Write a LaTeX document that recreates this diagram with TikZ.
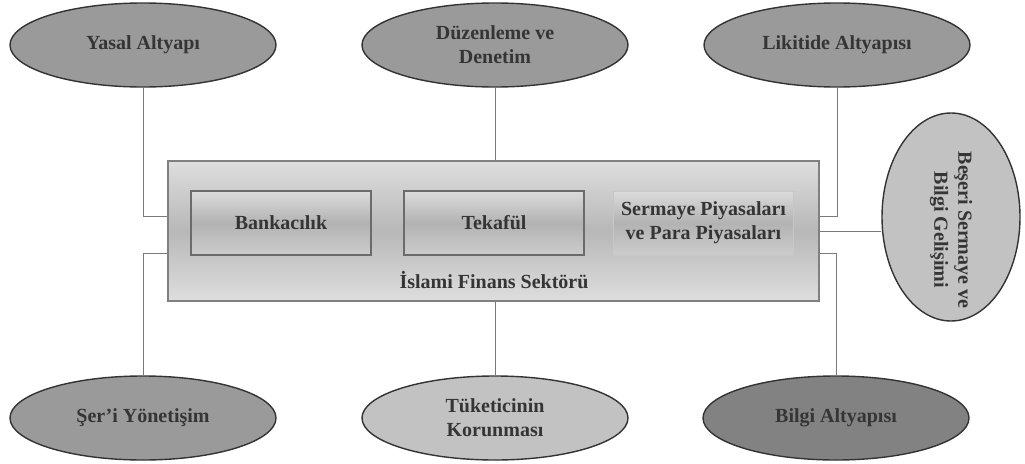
\documentclass[tikz,border=0pt]{standalone}
\usepackage{fontspec}
\setmainfont{Liberation Serif}
\usetikzlibrary{shapes.geometric,calc}
\definecolor{txt}{HTML}{353535}
\definecolor{edge}{HTML}{333333}
\definecolor{midgray}{HTML}{9A9A9A}
\definecolor{lightgray}{HTML}{C2C2C2}
\definecolor{darkgray}{HTML}{828282}
\definecolor{conncol}{HTML}{7A7A7A}
\tikzset{
  lbl/.style={font=\bfseries\fontsize{20}{24}\selectfont, text=txt, align=center},
  oval/.style={ellipse, draw=edge, line width=1.4pt, minimum width=266pt, minimum height=84pt, inner sep=0pt, lbl},
  sector/.style={draw=black!50, line width=1.2pt, top color=black!13, bottom color=black!13, middle color=black!28, minimum width=651pt, minimum height=140pt, inner sep=0pt},
  inbox/.style={draw=black!58, line width=1.3pt, top color=black!14, bottom color=black!20, middle color=black!30, minimum width=180pt, minimum height=64pt, inner sep=0pt, lbl},
  conn/.style={draw=conncol, line width=1pt}
}
\begin{document}
\begin{tikzpicture}[x=1pt,y=-1pt]
\useasboundingbox (0,0) rectangle (1025,463);
% main sector box
\node[sector] (main) at (493.5,231) {};
\node[inbox] (bank) at (281,223) {Bankacılık};
\node[inbox] (tek) at (494,223) {Tekafül};
\node[inbox, draw=black!22, line width=0.8pt] (serm) at (703.5,223) {Sermaye Piyasaları\\ve Para Piyasaları};
\node[lbl] (isl) at (494,280) {İslami Finans Sektörü};
% outer ovals
\node[oval, fill=midgray] (yasal) at (143,45) {Yasal Altyapı};
\node[oval, fill=midgray] (duz) at (495,45) {Düzenleme ve\\Denetim};
\node[oval, fill=midgray] (lik) at (837,45) {Likitide Altyapısı};
\node[oval, fill=midgray] (ser) at (143,418) {Şer'i Yönetişim};
\node[oval, fill=lightgray] (tuk) at (495,418) {Tüketicinin\\Korunması};
\node[oval, fill=darkgray] (bilgi) at (836,418) {Bilgi Altyapısı};
\node[ellipse, draw=edge, line width=1.4pt, fill=lightgray, minimum width=138pt, minimum height=208pt, inner sep=0pt] (besh) at (951,217) {};
\node[lbl, rotate=-90] (beshtxt) at (951,230) {Beşeri Sermaye ve\\Bilgi Gelişimi};
% connectors
\draw[conn] (yasal.south) |- ([yshift=15pt]main.west);
\draw[conn] ([yshift=-22pt]main.west) -| (ser.north);
\draw[conn] (duz.south) -- (duz.south |- main.north);
\draw[conn] (main.south -| tuk.north) -- (tuk.north);
\draw[conn] (lik.south) |- ([yshift=15pt]main.east);
\draw[conn] ([yshift=-22pt]main.east) -| (bilgi.north);
\draw[conn] (main.east) -- (besh.west |- main.east);
\end{tikzpicture}
\end{document}
